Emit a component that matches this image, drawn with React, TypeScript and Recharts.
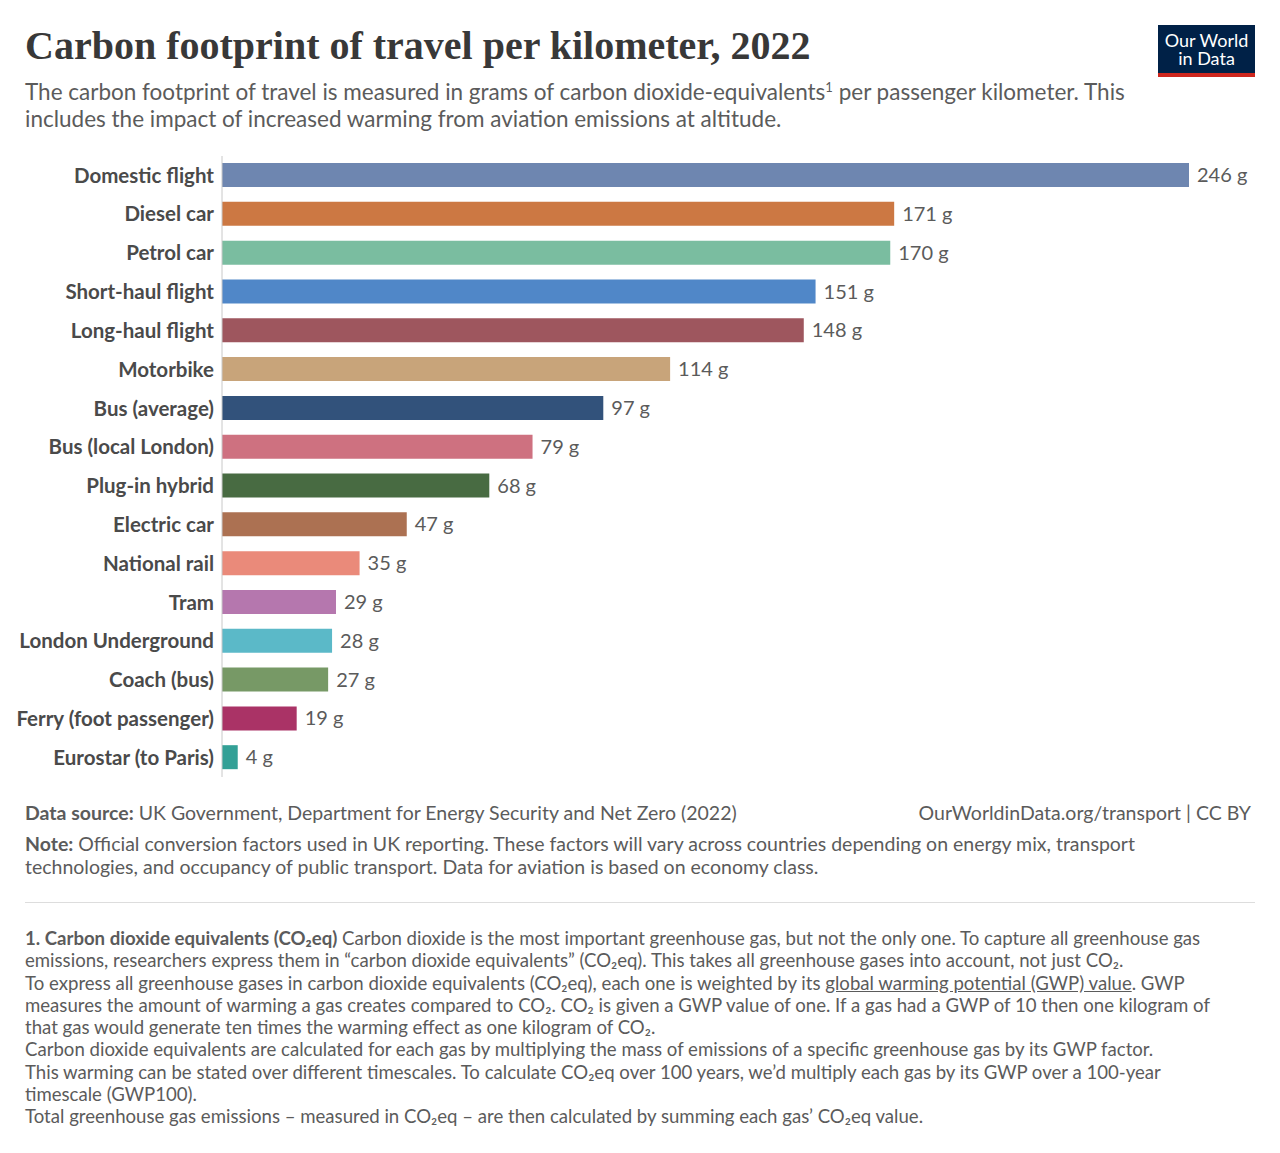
import { BarChart, Bar, XAxis, YAxis, LabelList, Cell } from 'recharts';

const modes = [
  'Domestic flight',
  'Diesel car',
  'Petrol car',
  'Short-haul flight',
  'Long-haul flight',
  'Motorbike',
  'Bus (average)',
  'Bus (local London)',
  'Plug-in hybrid',
  'Electric car',
  'National rail',
  'Tram',
  'London Underground',
  'Coach (bus)',
  'Ferry (foot passenger)',
  'Eurostar (to Paris)',
];

// grams CO2eq per passenger kilometer
const grams = [246, 171, 170, 151, 148, 114, 97, 79, 68, 47, 35, 29, 28, 27, 19, 4];

const barColors = [
  '#6E86B0',
  '#CC7843',
  '#7ABDA0',
  '#5087C8',
  '#9E565E',
  '#C8A47A',
  '#32527B',
  '#CE7180',
  '#486B42',
  '#AC7152',
  '#EA8A7A',
  '#B577AE',
  '#5BB9C8',
  '#779966',
  '#AA3366',
  '#33A096',
];

const data = modes.map((name, i) => ({ name, value: grams[i] }));

const lato = 'Lato, "Noto Sans", sans-serif';
const grey = '#5b5b5b';

export default function App() {
  return (
    <div
      style={{
        position: 'absolute',
        left: 0,
        top: 0,
        width: 1280,
        height: 1153,
        background: '#fff',
        fontFamily: lato,
        color: grey,
      }}
    >
      <div
        style={{
          position: 'absolute',
          left: 25,
          top: 22,
          fontFamily: '"Liberation Serif", "DejaVu Serif", serif',
          fontSize: 40,
          fontWeight: 700,
          color: '#383838',
          whiteSpace: 'nowrap',
          lineHeight: '48px',
        }}
      >
        Carbon footprint of travel per kilometer, 2022
      </div>
      <div
        style={{
          position: 'absolute',
          left: 25,
          top: 78,
          width: 1120,
          fontSize: 22.5,
          lineHeight: '27px',
          color: grey,
        }}
      >
        The carbon footprint of travel is measured in grams of carbon dioxide-equivalents
        <sup style={{ fontSize: 13, lineHeight: 0 }}>1</sup> per passenger kilometer. This
        includes the impact of increased warming from aviation emissions at altitude.
      </div>

      {/* logo */}
      <div
        style={{
          position: 'absolute',
          left: 1158,
          top: 25,
          width: 97,
          height: 52,
          background: '#002147',
          borderBottom: '4px solid #CE261E',
          boxSizing: 'border-box',
          color: '#fff',
          fontSize: 18,
          lineHeight: '18px',
          textAlign: 'center',
          paddingTop: 6,
        }}
      >
        Our World
        <br />
        in Data
      </div>

      <div style={{ position: 'absolute', left: 0, top: 156 }}>
        <BarChart
          width={1280}
          height={621}
          data={data}
          layout="vertical"
          margin={{ top: 0, right: 91, bottom: 0, left: 0 }}
        >
          <XAxis type="number" domain={[0, 246]} hide />
          <YAxis
            type="category"
            dataKey="name"
            width={222}
            tickLine={false}
            axisLine={{ stroke: '#c8c8c8' }}
            interval={0}
            tick={{ fill: '#4a4a4a', fontSize: 20.5, fontFamily: lato, fontWeight: 700 }}
          />
          <Bar dataKey="value" barSize={24} isAnimationActive={false}>
            {data.map((d, i) => (
              <Cell key={d.name} fill={barColors[i]} />
            ))}
            <LabelList
              dataKey="value"
              position="right"
              offset={8}
              formatter={(v: number) => `${v} g`}
              style={{ fill: grey, fontSize: 20, fontFamily: lato }}
            />
          </Bar>
        </BarChart>
      </div>

      {/* sources and notes */}
      <div
        style={{ position: 'absolute', left: 25, top: 801, fontSize: 19.5, lineHeight: '24px' }}
      >
        <b>Data source:</b> UK Government, Department for Energy Security and Net Zero (2022)
      </div>
      <div
        style={{
          position: 'absolute',
          right: 29,
          top: 801,
          fontSize: 19.5,
          lineHeight: '24px',
          whiteSpace: 'nowrap',
        }}
      >
        OurWorldinData.org/transport | CC BY
      </div>
      <div
        style={{
          position: 'absolute',
          left: 25,
          top: 832,
          width: 1150,
          fontSize: 19.5,
          lineHeight: '23px',
        }}
      >
        <b>Note:</b> Official conversion factors used in UK reporting. These factors will vary
        across countries depending on energy mix, transport technologies, and occupancy of public
        transport. Data for aviation is based on economy class.
      </div>
      <div
        style={{
          position: 'absolute',
          left: 25,
          top: 902,
          width: 1230,
          height: 1,
          background: '#dddddd',
        }}
      />
      <div
        style={{
          position: 'absolute',
          left: 25,
          top: 927,
          width: 1205,
          fontSize: 18.6,
          lineHeight: '22.3px',
        }}
      >
        <div>
          <b>1. Carbon dioxide equivalents (CO₂eq)</b> Carbon dioxide is the most important
          greenhouse gas, but not the only one. To capture all greenhouse gas emissions,
          researchers express them in “carbon dioxide equivalents” (CO₂eq). This takes all
          greenhouse gases into account, not just CO₂.
        </div>
        <div>
          To express all greenhouse gases in carbon dioxide equivalents (CO₂eq), each one is
          weighted by its <u>global warming potential (GWP) value</u>. GWP measures the amount of
          warming a gas creates compared to CO₂. CO₂ is given a GWP value of one. If a gas had a
          GWP of 10 then one kilogram of that gas would generate ten times the warming effect as
          one kilogram of CO₂.
        </div>
        <div>
          Carbon dioxide equivalents are calculated for each gas by multiplying the mass of
          emissions of a specific greenhouse gas by its GWP factor.
        </div>
        <div>
          This warming can be stated over different timescales. To calculate CO₂eq over 100
          years, we’d multiply each gas by its GWP over a 100-year timescale (GWP100).
        </div>
        <div>
          Total greenhouse gas emissions – measured in CO₂eq – are then calculated by summing each
          gas’ CO₂eq value.
        </div>
      </div>
    </div>
  );
}
